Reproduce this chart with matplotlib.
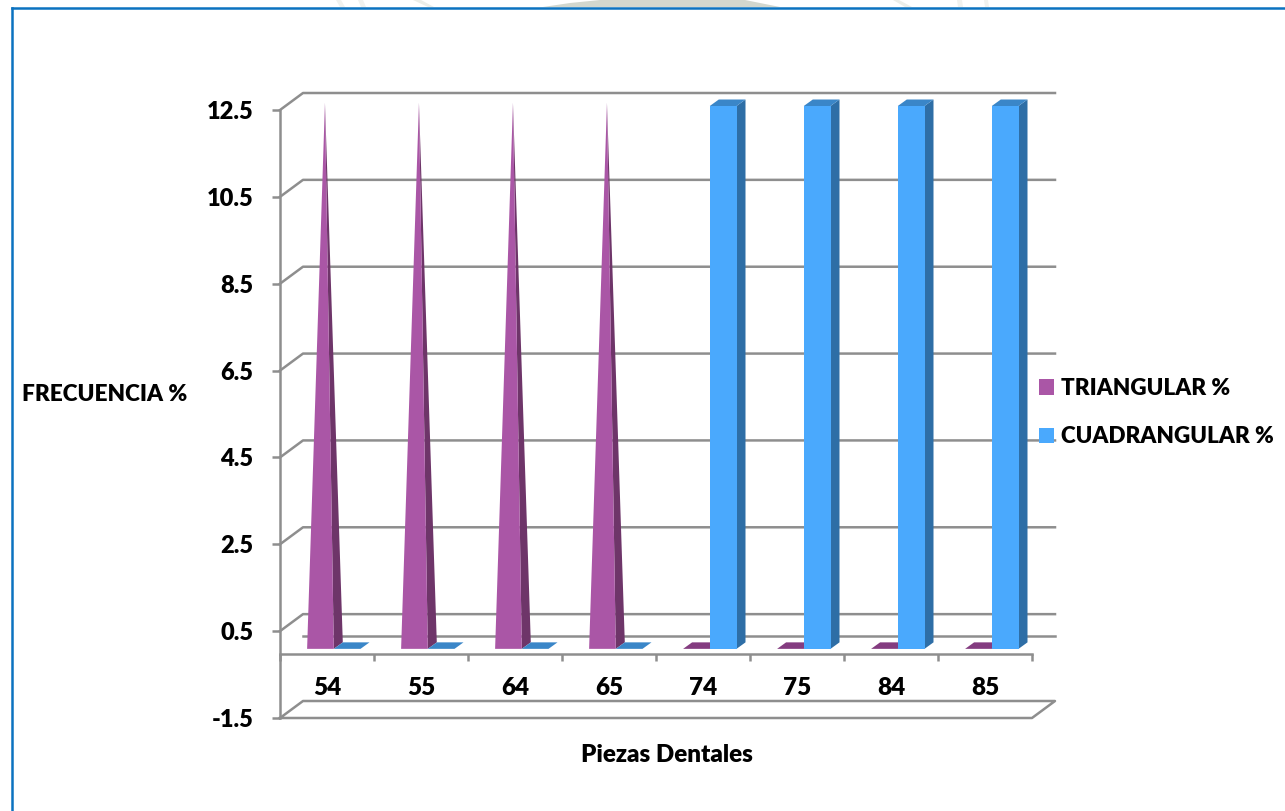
import matplotlib
matplotlib.use("Agg")
import matplotlib.pyplot as plt
from matplotlib.patches import Patch

piezas = ["54", "55", "64", "65", "74", "75", "84", "85"]
triangular = [12.5, 12.5, 12.5, 12.5, 0, 0, 0, 0]
cuadrangular = [0, 0, 0, 0, 12.5, 12.5, 12.5, 12.5]
y_ticks = [-1.5, 0.5, 2.5, 4.5, 6.5, 8.5, 10.5, 12.5]

W, H = 1285, 811
GRAY = "#8e8e8e"
PURPLE = ("#aa56a6", "#6e3569", "#843c80")
BLUE = ("#4aa9fd", "#2e6ea6", "#3a86c8")

plt.rcParams["font.family"] = ["Lato", "DejaVu Sans"]
plt.rcParams["font.weight"] = 800

fig = plt.figure(figsize=(W / 100, H / 100), dpi=100)

# faint watermark above the page frame
marks = [([336, 341, 345, 340], "#f1f2ef"), ([358, 363, 366, 361], "#f1f2ef"),
         ([413, 421, 434, 428], "#eceee9"), ([893, 899, 912, 905], "#eceee9"),
         ([957, 962, 963, 958], "#f1f2ef"), ([984, 988, 989, 985], "#f1f2ef")]
for xs, col in marks:
    fig.add_artist(plt.Polygon([(xs[0] / W, 1), (xs[1] / W, 1), (xs[2] / W, 1 - 7 / H), (xs[3] / W, 1 - 7 / H)],
                               closed=True, color=col, lw=0))
fig.add_artist(plt.Polygon([(543 / W, 1 - 7 / H), (570 / W, 1 - 3 / H), (600 / W, 1), (745 / W, 1), (780 / W, 1 - 7 / H)],
                           closed=True, color="#d2d7ce", lw=0))
# blue frame, only left and top
fig.add_artist(plt.Line2D([12 / W, 12 / W], [0, 1 - 8 / H], color="#0b72c0", lw=1.8))
fig.add_artist(plt.Line2D([12 / W, 1], [1 - 8 / H, 1 - 8 / H], color="#0b72c0", lw=1.8))

ax = fig.add_axes([280 / W, (H - 718) / H, 752 / W, 608 / H])
ax.set_xlim(0, len(piezas))
ax.set_ylim(y_ticks[0], y_ticks[-1])
ax.patch.set_alpha(0)

# sizes of the fake 3d, px turned into data units
px_x = len(piezas) / 752
px_y = (y_ticks[-1] - y_ticks[0]) / 608
wall_dx, wall_dy = 23 * px_x, 17 * px_y
bar_dx, bar_dy = 9 * px_x, 6.5 * px_y
front_dx, front_dy = 6.8 * px_x, 4 * px_y
bar_w = 26.7 * px_x
n = len(piezas)
LW = 1.8

# back wall lines
for t in y_ticks[1:]:
    ax.plot([0, wall_dx, n + wall_dx], [t, t + wall_dy, t + wall_dy],
            color=GRAY, lw=LW, clip_on=False, zorder=1)
ax.plot([wall_dx, n + wall_dx], [wall_dy, wall_dy], color=GRAY, lw=LW, clip_on=False, zorder=1)
# floor
b = y_ticks[0]
ax.plot([0, wall_dx, n + wall_dx, n, 0], [b, b + wall_dy, b + wall_dy, b, b],
        color=GRAY, lw=LW, clip_on=False, zorder=1)


def flat_top(x, y, colors):
    ax.fill([x, x + bar_w, x + bar_w + bar_dx, x + bar_dx],
            [y, y, y + bar_dy, y + bar_dy], color=colors[2], lw=0, clip_on=False, zorder=3)


def columna(x, v, colors):
    y0 = front_dy
    y1 = v + front_dy
    if v > 0:
        ax.fill([x + bar_w, x + bar_w + bar_dx, x + bar_w + bar_dx, x + bar_w],
                [y0, y0 + bar_dy, y1 + bar_dy, y1], color=colors[1], lw=0, clip_on=False, zorder=3)
        ax.fill([x, x + bar_w, x + bar_w, x], [y0, y0, y1, y1], color=colors[0], lw=0, clip_on=False, zorder=3)
    flat_top(x, y1, colors)


def piramide(x, v, colors):
    y0 = front_dy
    if v == 0:
        flat_top(x, y0, colors)
        return
    tip_x = x + bar_w / 2 + bar_dx / 2
    tip_y = v + y0 + bar_dy / 2
    ax.fill([x + bar_w, x + bar_w + bar_dx, tip_x], [y0, y0 + bar_dy, tip_y],
            color=colors[1], lw=0, clip_on=False, zorder=3)
    ax.fill([x, x + bar_w, tip_x], [y0, y0, tip_y], color=colors[0], lw=0, clip_on=False, zorder=3)


for i in range(n):
    center = i + 0.5 + front_dx
    piramide(center - bar_w, triangular[i], PURPLE)
    columna(center, cuadrangular[i], BLUE)

for s in ["top", "right"]:
    ax.spines[s].set_visible(False)
ax.spines["left"].set_color(GRAY)
ax.spines["left"].set_linewidth(LW)
ax.spines["bottom"].set_color(GRAY)
ax.spines["bottom"].set_linewidth(LW)
ax.spines["bottom"].set_position(("data", -1.5 * px_y))

ax.set_yticks(y_ticks)
ax.set_yticklabels([str(t) for t in y_ticks], fontsize=17)
ax.tick_params(axis="y", length=6, width=LW, color=GRAY, pad=13)

ax.set_xticks(range(n + 1))
ax.set_xticklabels([])
ax.set_xticks([i + 0.5 for i in range(n)], minor=True)
ax.set_xticklabels(piezas, minor=True, fontsize=17.5)
ax.tick_params(axis="x", which="major", length=5, width=LW, color=GRAY)
ax.tick_params(axis="x", which="minor", length=0, pad=16)

ax.set_ylabel("FRECUENCIA %", rotation=0, fontsize=16.3, fontweight=800, va="center", ha="center")
ax.yaxis.set_label_coords((105 - 280) / 752, (718 - 395) / 608)
ax.set_xlabel("Piezas Dentales", fontsize=17.4, fontweight=800, va="center", ha="center")
ax.xaxis.set_label_coords((667 - 280) / 752, (718 - 755) / 608)

handles = [Patch(color=PURPLE[0], lw=0), Patch(color=BLUE[0], lw=0)]
fig.legend(handles, ["TRIANGULAR %", "CUADRANGULAR %"], loc="upper left",
           bbox_to_anchor=(1039 / W, 1 - 378 / H), frameon=False, borderpad=0, borderaxespad=0,
           fontsize=16.2, handlelength=0.67, handleheight=0.67, handletextpad=0.3, labelspacing=1.22)

fig.savefig("out.png", dpi=100)
